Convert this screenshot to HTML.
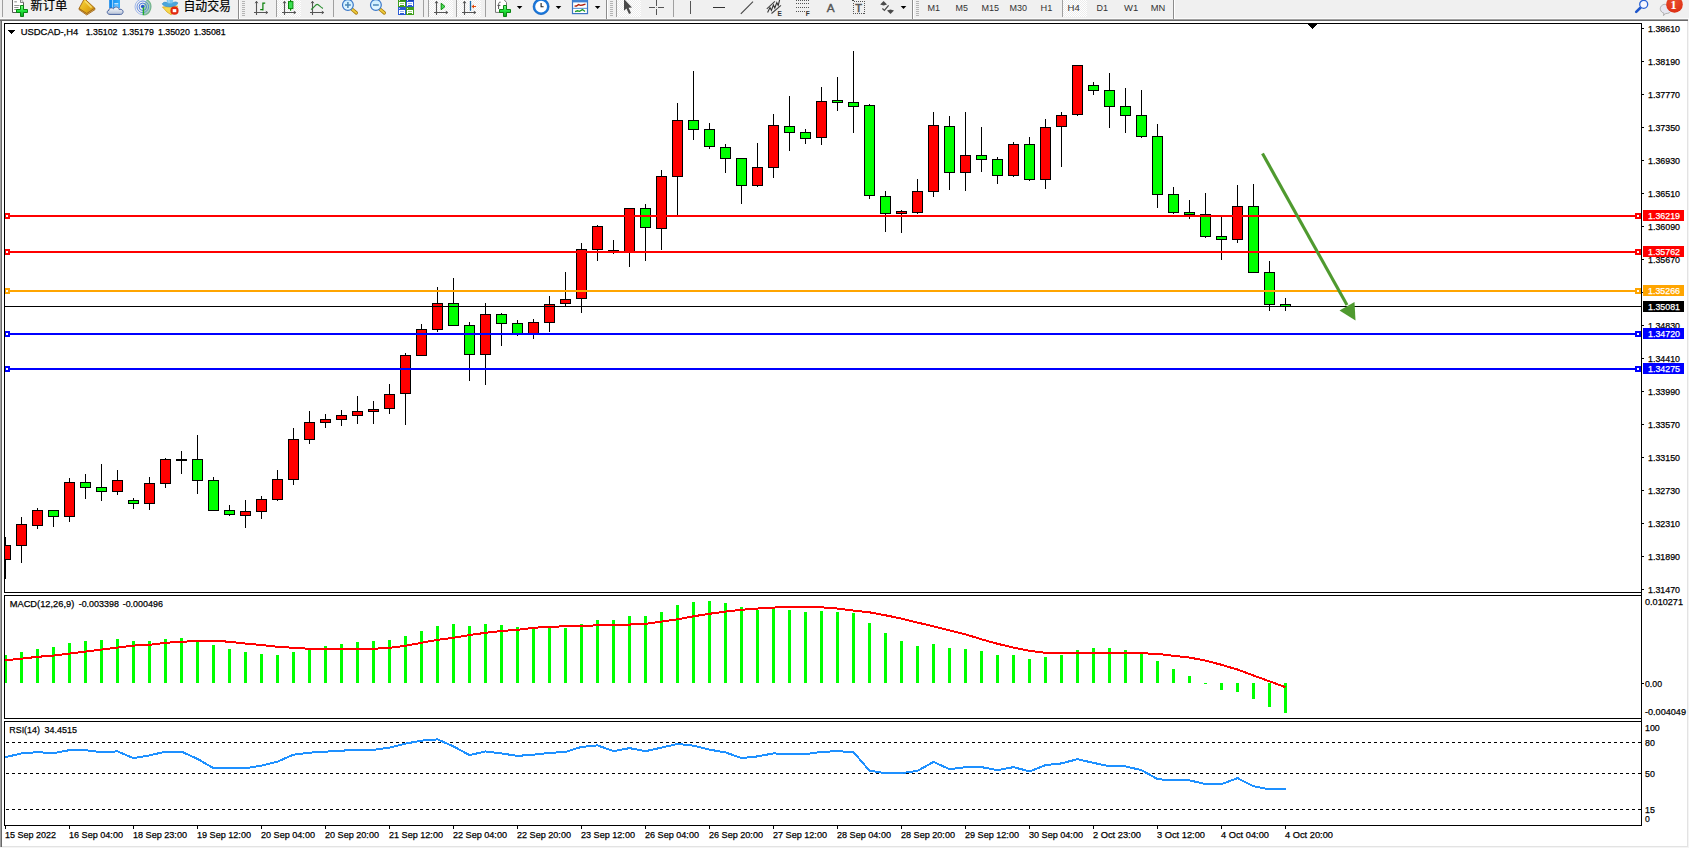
<!DOCTYPE html>
<html lang="zh-CN">
<head>
<meta charset="utf-8">
<title>USDCAD-,H4</title>
<style>
html,body{margin:0;padding:0;background:#fff;}
body{width:1689px;height:848px;overflow:hidden;position:relative;font-family:"Liberation Sans","Noto Sans CJK SC",sans-serif;}
#tb{position:absolute;left:0;top:0;width:1689px;height:19px;background:#f0f0f0;overflow:hidden;}
#tb .t{position:absolute;white-space:nowrap;color:#000;}
#tb svg{position:absolute;left:0;top:0;}
</style>
</head>
<body>
<svg width="1689" height="848" viewBox="0 0 1689 848" style="position:absolute;left:0;top:0" font-family="'Liberation Sans', sans-serif">
<g shape-rendering="crispEdges">
<rect x="0" y="19" width="1689" height="2" fill="#a0a0a0"/>
<rect x="0" y="20" width="1689" height="1" fill="#696969"/>
<rect x="0" y="21" width="2" height="827" fill="#a0a0a0"/>
<rect x="1" y="21" width="1" height="827" fill="#696969"/>
<rect x="1687" y="21" width="1" height="826" fill="#e3e3e3"/>
<rect x="2" y="846" width="1686" height="1" fill="#e3e3e3"/>
<rect x="1688" y="19" width="1" height="829" fill="#f4f4f4"/>
<rect x="0" y="847" width="1689" height="1" fill="#f4f4f4"/>
<rect x="4" y="23" width="1" height="570" fill="#000"/>
<rect x="4" y="23" width="1638" height="1" fill="#000"/>
<rect x="4" y="592" width="1638" height="1" fill="#000"/>
<rect x="4" y="595" width="1" height="124" fill="#000"/>
<rect x="4" y="595" width="1638" height="1" fill="#000"/>
<rect x="4" y="718" width="1638" height="1" fill="#000"/>
<rect x="4" y="721" width="1" height="105" fill="#000"/>
<rect x="4" y="721" width="1638" height="1" fill="#000"/>
<rect x="4" y="825" width="1638" height="1" fill="#000"/>
<rect x="1641" y="23" width="1" height="803" fill="#000"/>
<clipPath id="cm"><rect x="5" y="24" width="1636" height="568"/></clipPath>
<g clip-path="url(#cm)">
<rect x="5" y="537" width="1" height="42" fill="#000"/>
<rect x="0" y="545" width="11" height="15" fill="#000"/>
<rect x="1" y="546" width="9" height="13" fill="#ff0000"/>
<rect x="21" y="517" width="1" height="46" fill="#000"/>
<rect x="16" y="524" width="11" height="22" fill="#000"/>
<rect x="17" y="525" width="9" height="20" fill="#ff0000"/>
<rect x="37" y="508" width="1" height="21" fill="#000"/>
<rect x="32" y="510" width="11" height="16" fill="#000"/>
<rect x="33" y="511" width="9" height="14" fill="#ff0000"/>
<rect x="53" y="510" width="1" height="17" fill="#000"/>
<rect x="48" y="510" width="11" height="7" fill="#000"/>
<rect x="49" y="511" width="9" height="5" fill="#00ff00"/>
<rect x="69" y="478" width="1" height="44" fill="#000"/>
<rect x="64" y="482" width="11" height="35" fill="#000"/>
<rect x="65" y="483" width="9" height="33" fill="#ff0000"/>
<rect x="85" y="474" width="1" height="25" fill="#000"/>
<rect x="80" y="482" width="11" height="6" fill="#000"/>
<rect x="81" y="483" width="9" height="4" fill="#00ff00"/>
<rect x="101" y="464" width="1" height="37" fill="#000"/>
<rect x="96" y="487" width="11" height="5" fill="#000"/>
<rect x="97" y="488" width="9" height="3" fill="#00ff00"/>
<rect x="117" y="470" width="1" height="25" fill="#000"/>
<rect x="112" y="480" width="11" height="12" fill="#000"/>
<rect x="113" y="481" width="9" height="10" fill="#ff0000"/>
<rect x="133" y="498" width="1" height="11" fill="#000"/>
<rect x="128" y="500" width="11" height="4" fill="#000"/>
<rect x="129" y="501" width="9" height="2" fill="#00ff00"/>
<rect x="149" y="477" width="1" height="33" fill="#000"/>
<rect x="144" y="483" width="11" height="21" fill="#000"/>
<rect x="145" y="484" width="9" height="19" fill="#ff0000"/>
<rect x="165" y="458" width="1" height="30" fill="#000"/>
<rect x="160" y="459" width="11" height="25" fill="#000"/>
<rect x="161" y="460" width="9" height="23" fill="#ff0000"/>
<rect x="181" y="451" width="1" height="23" fill="#000"/>
<rect x="176" y="459" width="11" height="2" fill="#000"/>
<rect x="197" y="435" width="1" height="59" fill="#000"/>
<rect x="192" y="459" width="11" height="22" fill="#000"/>
<rect x="193" y="460" width="9" height="20" fill="#00ff00"/>
<rect x="213" y="477" width="1" height="34" fill="#000"/>
<rect x="208" y="480" width="11" height="31" fill="#000"/>
<rect x="209" y="481" width="9" height="29" fill="#00ff00"/>
<rect x="229" y="505" width="1" height="11" fill="#000"/>
<rect x="224" y="510" width="11" height="5" fill="#000"/>
<rect x="225" y="511" width="9" height="3" fill="#00ff00"/>
<rect x="245" y="500" width="1" height="28" fill="#000"/>
<rect x="240" y="511" width="11" height="5" fill="#000"/>
<rect x="241" y="512" width="9" height="3" fill="#ff0000"/>
<rect x="261" y="496" width="1" height="23" fill="#000"/>
<rect x="256" y="499" width="11" height="13" fill="#000"/>
<rect x="257" y="500" width="9" height="11" fill="#ff0000"/>
<rect x="277" y="470" width="1" height="31" fill="#000"/>
<rect x="272" y="479" width="11" height="21" fill="#000"/>
<rect x="273" y="480" width="9" height="19" fill="#ff0000"/>
<rect x="293" y="428" width="1" height="57" fill="#000"/>
<rect x="288" y="439" width="11" height="41" fill="#000"/>
<rect x="289" y="440" width="9" height="39" fill="#ff0000"/>
<rect x="309" y="411" width="1" height="33" fill="#000"/>
<rect x="304" y="422" width="11" height="18" fill="#000"/>
<rect x="305" y="423" width="9" height="16" fill="#ff0000"/>
<rect x="325" y="414" width="1" height="14" fill="#000"/>
<rect x="320" y="419" width="11" height="4" fill="#000"/>
<rect x="321" y="420" width="9" height="2" fill="#ff0000"/>
<rect x="341" y="410" width="1" height="16" fill="#000"/>
<rect x="336" y="415" width="11" height="5" fill="#000"/>
<rect x="337" y="416" width="9" height="3" fill="#ff0000"/>
<rect x="357" y="396" width="1" height="28" fill="#000"/>
<rect x="352" y="411" width="11" height="5" fill="#000"/>
<rect x="353" y="412" width="9" height="3" fill="#ff0000"/>
<rect x="373" y="401" width="1" height="23" fill="#000"/>
<rect x="368" y="409" width="11" height="3" fill="#000"/>
<rect x="369" y="410" width="9" height="1" fill="#ff0000"/>
<rect x="389" y="384" width="1" height="30" fill="#000"/>
<rect x="384" y="394" width="11" height="15" fill="#000"/>
<rect x="385" y="395" width="9" height="13" fill="#ff0000"/>
<rect x="405" y="353" width="1" height="72" fill="#000"/>
<rect x="400" y="355" width="11" height="39" fill="#000"/>
<rect x="401" y="356" width="9" height="37" fill="#ff0000"/>
<rect x="421" y="324" width="1" height="32" fill="#000"/>
<rect x="416" y="329" width="11" height="27" fill="#000"/>
<rect x="417" y="330" width="9" height="25" fill="#ff0000"/>
<rect x="437" y="287" width="1" height="45" fill="#000"/>
<rect x="432" y="303" width="11" height="27" fill="#000"/>
<rect x="433" y="304" width="9" height="25" fill="#ff0000"/>
<rect x="453" y="278" width="1" height="48" fill="#000"/>
<rect x="448" y="303" width="11" height="23" fill="#000"/>
<rect x="449" y="304" width="9" height="21" fill="#00ff00"/>
<rect x="469" y="322" width="1" height="59" fill="#000"/>
<rect x="464" y="325" width="11" height="30" fill="#000"/>
<rect x="465" y="326" width="9" height="28" fill="#00ff00"/>
<rect x="485" y="303" width="1" height="82" fill="#000"/>
<rect x="480" y="314" width="11" height="41" fill="#000"/>
<rect x="481" y="315" width="9" height="39" fill="#ff0000"/>
<rect x="501" y="313" width="1" height="33" fill="#000"/>
<rect x="496" y="314" width="11" height="10" fill="#000"/>
<rect x="497" y="315" width="9" height="8" fill="#00ff00"/>
<rect x="517" y="320" width="1" height="16" fill="#000"/>
<rect x="512" y="323" width="11" height="11" fill="#000"/>
<rect x="513" y="324" width="9" height="9" fill="#00ff00"/>
<rect x="533" y="319" width="1" height="20" fill="#000"/>
<rect x="528" y="322" width="11" height="12" fill="#000"/>
<rect x="529" y="323" width="9" height="10" fill="#ff0000"/>
<rect x="549" y="296" width="1" height="36" fill="#000"/>
<rect x="544" y="304" width="11" height="19" fill="#000"/>
<rect x="545" y="305" width="9" height="17" fill="#ff0000"/>
<rect x="565" y="272" width="1" height="34" fill="#000"/>
<rect x="560" y="299" width="11" height="5" fill="#000"/>
<rect x="561" y="300" width="9" height="3" fill="#ff0000"/>
<rect x="581" y="243" width="1" height="70" fill="#000"/>
<rect x="576" y="249" width="11" height="50" fill="#000"/>
<rect x="577" y="250" width="9" height="48" fill="#ff0000"/>
<rect x="597" y="225" width="1" height="36" fill="#000"/>
<rect x="592" y="226" width="11" height="24" fill="#000"/>
<rect x="593" y="227" width="9" height="22" fill="#ff0000"/>
<rect x="613" y="240" width="1" height="14" fill="#000"/>
<rect x="608" y="250" width="11" height="2" fill="#000"/>
<rect x="629" y="208" width="1" height="59" fill="#000"/>
<rect x="624" y="208" width="11" height="44" fill="#000"/>
<rect x="625" y="209" width="9" height="42" fill="#ff0000"/>
<rect x="645" y="204" width="1" height="57" fill="#000"/>
<rect x="640" y="208" width="11" height="20" fill="#000"/>
<rect x="641" y="209" width="9" height="18" fill="#00ff00"/>
<rect x="661" y="170" width="1" height="80" fill="#000"/>
<rect x="656" y="176" width="11" height="53" fill="#000"/>
<rect x="657" y="177" width="9" height="51" fill="#ff0000"/>
<rect x="677" y="103" width="1" height="113" fill="#000"/>
<rect x="672" y="120" width="11" height="57" fill="#000"/>
<rect x="673" y="121" width="9" height="55" fill="#ff0000"/>
<rect x="693" y="71" width="1" height="69" fill="#000"/>
<rect x="688" y="120" width="11" height="10" fill="#000"/>
<rect x="689" y="121" width="9" height="8" fill="#00ff00"/>
<rect x="709" y="123" width="1" height="26" fill="#000"/>
<rect x="704" y="129" width="11" height="18" fill="#000"/>
<rect x="705" y="130" width="9" height="16" fill="#00ff00"/>
<rect x="725" y="144" width="1" height="29" fill="#000"/>
<rect x="720" y="147" width="11" height="12" fill="#000"/>
<rect x="721" y="148" width="9" height="10" fill="#00ff00"/>
<rect x="741" y="158" width="1" height="46" fill="#000"/>
<rect x="736" y="158" width="11" height="28" fill="#000"/>
<rect x="737" y="159" width="9" height="26" fill="#00ff00"/>
<rect x="757" y="143" width="1" height="44" fill="#000"/>
<rect x="752" y="167" width="11" height="19" fill="#000"/>
<rect x="753" y="168" width="9" height="17" fill="#ff0000"/>
<rect x="773" y="114" width="1" height="64" fill="#000"/>
<rect x="768" y="125" width="11" height="43" fill="#000"/>
<rect x="769" y="126" width="9" height="41" fill="#ff0000"/>
<rect x="789" y="96" width="1" height="55" fill="#000"/>
<rect x="784" y="126" width="11" height="7" fill="#000"/>
<rect x="785" y="127" width="9" height="5" fill="#00ff00"/>
<rect x="805" y="129" width="1" height="15" fill="#000"/>
<rect x="800" y="132" width="11" height="7" fill="#000"/>
<rect x="801" y="133" width="9" height="5" fill="#00ff00"/>
<rect x="821" y="87" width="1" height="58" fill="#000"/>
<rect x="816" y="101" width="11" height="37" fill="#000"/>
<rect x="817" y="102" width="9" height="35" fill="#ff0000"/>
<rect x="837" y="77" width="1" height="34" fill="#000"/>
<rect x="832" y="100" width="11" height="3" fill="#000"/>
<rect x="833" y="101" width="9" height="1" fill="#00ff00"/>
<rect x="853" y="51" width="1" height="82" fill="#000"/>
<rect x="848" y="102" width="11" height="5" fill="#000"/>
<rect x="849" y="103" width="9" height="3" fill="#00ff00"/>
<rect x="869" y="104" width="1" height="95" fill="#000"/>
<rect x="864" y="105" width="11" height="91" fill="#000"/>
<rect x="865" y="106" width="9" height="89" fill="#00ff00"/>
<rect x="885" y="191" width="1" height="41" fill="#000"/>
<rect x="880" y="196" width="11" height="18" fill="#000"/>
<rect x="881" y="197" width="9" height="16" fill="#00ff00"/>
<rect x="901" y="210" width="1" height="23" fill="#000"/>
<rect x="896" y="211" width="11" height="3" fill="#000"/>
<rect x="897" y="212" width="9" height="1" fill="#ff0000"/>
<rect x="917" y="179" width="1" height="35" fill="#000"/>
<rect x="912" y="191" width="11" height="22" fill="#000"/>
<rect x="913" y="192" width="9" height="20" fill="#ff0000"/>
<rect x="933" y="112" width="1" height="85" fill="#000"/>
<rect x="928" y="125" width="11" height="67" fill="#000"/>
<rect x="929" y="126" width="9" height="65" fill="#ff0000"/>
<rect x="949" y="116" width="1" height="74" fill="#000"/>
<rect x="944" y="126" width="11" height="47" fill="#000"/>
<rect x="945" y="127" width="9" height="45" fill="#00ff00"/>
<rect x="965" y="112" width="1" height="79" fill="#000"/>
<rect x="960" y="155" width="11" height="18" fill="#000"/>
<rect x="961" y="156" width="9" height="16" fill="#ff0000"/>
<rect x="981" y="127" width="1" height="45" fill="#000"/>
<rect x="976" y="155" width="11" height="5" fill="#000"/>
<rect x="977" y="156" width="9" height="3" fill="#00ff00"/>
<rect x="997" y="157" width="1" height="27" fill="#000"/>
<rect x="992" y="159" width="11" height="17" fill="#000"/>
<rect x="993" y="160" width="9" height="15" fill="#00ff00"/>
<rect x="1013" y="142" width="1" height="35" fill="#000"/>
<rect x="1008" y="144" width="11" height="32" fill="#000"/>
<rect x="1009" y="145" width="9" height="30" fill="#ff0000"/>
<rect x="1029" y="137" width="1" height="44" fill="#000"/>
<rect x="1024" y="144" width="11" height="36" fill="#000"/>
<rect x="1025" y="145" width="9" height="34" fill="#00ff00"/>
<rect x="1045" y="119" width="1" height="70" fill="#000"/>
<rect x="1040" y="127" width="11" height="53" fill="#000"/>
<rect x="1041" y="128" width="9" height="51" fill="#ff0000"/>
<rect x="1061" y="112" width="1" height="55" fill="#000"/>
<rect x="1056" y="115" width="11" height="12" fill="#000"/>
<rect x="1057" y="116" width="9" height="10" fill="#ff0000"/>
<rect x="1077" y="65" width="1" height="51" fill="#000"/>
<rect x="1072" y="65" width="11" height="50" fill="#000"/>
<rect x="1073" y="66" width="9" height="48" fill="#ff0000"/>
<rect x="1093" y="82" width="1" height="13" fill="#000"/>
<rect x="1088" y="85" width="11" height="6" fill="#000"/>
<rect x="1089" y="86" width="9" height="4" fill="#00ff00"/>
<rect x="1109" y="73" width="1" height="55" fill="#000"/>
<rect x="1104" y="90" width="11" height="17" fill="#000"/>
<rect x="1105" y="91" width="9" height="15" fill="#00ff00"/>
<rect x="1125" y="88" width="1" height="45" fill="#000"/>
<rect x="1120" y="106" width="11" height="10" fill="#000"/>
<rect x="1121" y="107" width="9" height="8" fill="#00ff00"/>
<rect x="1141" y="90" width="1" height="48" fill="#000"/>
<rect x="1136" y="115" width="11" height="22" fill="#000"/>
<rect x="1137" y="116" width="9" height="20" fill="#00ff00"/>
<rect x="1157" y="124" width="1" height="84" fill="#000"/>
<rect x="1152" y="136" width="11" height="59" fill="#000"/>
<rect x="1153" y="137" width="9" height="57" fill="#00ff00"/>
<rect x="1173" y="187" width="1" height="27" fill="#000"/>
<rect x="1168" y="194" width="11" height="19" fill="#000"/>
<rect x="1169" y="195" width="9" height="17" fill="#00ff00"/>
<rect x="1189" y="200" width="1" height="19" fill="#000"/>
<rect x="1184" y="212" width="11" height="3" fill="#000"/>
<rect x="1185" y="213" width="9" height="1" fill="#00ff00"/>
<rect x="1205" y="193" width="1" height="45" fill="#000"/>
<rect x="1200" y="214" width="11" height="23" fill="#000"/>
<rect x="1201" y="215" width="9" height="21" fill="#00ff00"/>
<rect x="1221" y="217" width="1" height="43" fill="#000"/>
<rect x="1216" y="236" width="11" height="4" fill="#000"/>
<rect x="1217" y="237" width="9" height="2" fill="#00ff00"/>
<rect x="1237" y="185" width="1" height="58" fill="#000"/>
<rect x="1232" y="206" width="11" height="34" fill="#000"/>
<rect x="1233" y="207" width="9" height="32" fill="#ff0000"/>
<rect x="1253" y="184" width="1" height="89" fill="#000"/>
<rect x="1248" y="206" width="11" height="67" fill="#000"/>
<rect x="1249" y="207" width="9" height="65" fill="#00ff00"/>
<rect x="1269" y="261" width="1" height="50" fill="#000"/>
<rect x="1264" y="272" width="11" height="33" fill="#000"/>
<rect x="1265" y="273" width="9" height="31" fill="#00ff00"/>
<rect x="1285" y="298" width="1" height="13" fill="#000"/>
<rect x="1280" y="304" width="11" height="3" fill="#000"/>
<rect x="1281" y="305" width="9" height="1" fill="#00ff00"/>
</g>
<rect x="5" y="306" width="1636" height="1" fill="#000"/>
<rect x="5" y="215" width="1636" height="2" fill="#ff0000"/>
<rect x="4" y="213" width="6" height="6" fill="#ff0000"/>
<rect x="6" y="215" width="2" height="2" fill="#fff"/>
<rect x="1635" y="213" width="6" height="6" fill="#ff0000"/>
<rect x="1637" y="215" width="2" height="2" fill="#fff"/>
<rect x="5" y="251" width="1636" height="2" fill="#ff0000"/>
<rect x="4" y="249" width="6" height="6" fill="#ff0000"/>
<rect x="6" y="251" width="2" height="2" fill="#fff"/>
<rect x="1635" y="249" width="6" height="6" fill="#ff0000"/>
<rect x="1637" y="251" width="2" height="2" fill="#fff"/>
<rect x="5" y="290" width="1636" height="2" fill="#ffa500"/>
<rect x="4" y="288" width="6" height="6" fill="#ffa500"/>
<rect x="6" y="290" width="2" height="2" fill="#fff"/>
<rect x="1635" y="288" width="6" height="6" fill="#ffa500"/>
<rect x="1637" y="290" width="2" height="2" fill="#fff"/>
<rect x="5" y="333" width="1636" height="2" fill="#0000ff"/>
<rect x="4" y="331" width="6" height="6" fill="#0000ff"/>
<rect x="6" y="333" width="2" height="2" fill="#fff"/>
<rect x="1635" y="331" width="6" height="6" fill="#0000ff"/>
<rect x="1637" y="333" width="2" height="2" fill="#fff"/>
<rect x="5" y="368" width="1636" height="2" fill="#0000ff"/>
<rect x="4" y="366" width="6" height="6" fill="#0000ff"/>
<rect x="6" y="368" width="2" height="2" fill="#fff"/>
<rect x="1635" y="366" width="6" height="6" fill="#0000ff"/>
<rect x="1637" y="368" width="2" height="2" fill="#fff"/>
<rect x="1642" y="28" width="2" height="1" fill="#000"/>
<rect x="1642" y="61" width="2" height="1" fill="#000"/>
<rect x="1642" y="94" width="2" height="1" fill="#000"/>
<rect x="1642" y="127" width="2" height="1" fill="#000"/>
<rect x="1642" y="160" width="2" height="1" fill="#000"/>
<rect x="1642" y="193" width="2" height="1" fill="#000"/>
<rect x="1642" y="226" width="2" height="1" fill="#000"/>
<rect x="1642" y="259" width="2" height="1" fill="#000"/>
<rect x="1642" y="292" width="2" height="1" fill="#000"/>
<rect x="1642" y="325" width="2" height="1" fill="#000"/>
<rect x="1642" y="358" width="2" height="1" fill="#000"/>
<rect x="1642" y="391" width="2" height="1" fill="#000"/>
<rect x="1642" y="424" width="2" height="1" fill="#000"/>
<rect x="1642" y="457" width="2" height="1" fill="#000"/>
<rect x="1642" y="490" width="2" height="1" fill="#000"/>
<rect x="1642" y="523" width="2" height="1" fill="#000"/>
<rect x="1642" y="556" width="2" height="1" fill="#000"/>
<rect x="1642" y="589" width="2" height="1" fill="#000"/>
<rect x="1642" y="683" width="2" height="1" fill="#000"/>
</g>
<text x="1648" y="31.8" fill="#000" font-size="9.9" text-anchor="start" textLength="32" lengthAdjust="spacingAndGlyphs" stroke="#000" stroke-width="0.25" >1.38610</text>
<text x="1648" y="64.8" fill="#000" font-size="9.9" text-anchor="start" textLength="32" lengthAdjust="spacingAndGlyphs" stroke="#000" stroke-width="0.25" >1.38190</text>
<text x="1648" y="97.8" fill="#000" font-size="9.9" text-anchor="start" textLength="32" lengthAdjust="spacingAndGlyphs" stroke="#000" stroke-width="0.25" >1.37770</text>
<text x="1648" y="130.8" fill="#000" font-size="9.9" text-anchor="start" textLength="32" lengthAdjust="spacingAndGlyphs" stroke="#000" stroke-width="0.25" >1.37350</text>
<text x="1648" y="163.8" fill="#000" font-size="9.9" text-anchor="start" textLength="32" lengthAdjust="spacingAndGlyphs" stroke="#000" stroke-width="0.25" >1.36930</text>
<text x="1648" y="196.8" fill="#000" font-size="9.9" text-anchor="start" textLength="32" lengthAdjust="spacingAndGlyphs" stroke="#000" stroke-width="0.25" >1.36510</text>
<text x="1648" y="229.8" fill="#000" font-size="9.9" text-anchor="start" textLength="32" lengthAdjust="spacingAndGlyphs" stroke="#000" stroke-width="0.25" >1.36090</text>
<text x="1648" y="262.8" fill="#000" font-size="9.9" text-anchor="start" textLength="32" lengthAdjust="spacingAndGlyphs" stroke="#000" stroke-width="0.25" >1.35670</text>
<text x="1648" y="328.8" fill="#000" font-size="9.9" text-anchor="start" textLength="32" lengthAdjust="spacingAndGlyphs" stroke="#000" stroke-width="0.25" >1.34830</text>
<text x="1648" y="361.8" fill="#000" font-size="9.9" text-anchor="start" textLength="32" lengthAdjust="spacingAndGlyphs" stroke="#000" stroke-width="0.25" >1.34410</text>
<text x="1648" y="394.8" fill="#000" font-size="9.9" text-anchor="start" textLength="32" lengthAdjust="spacingAndGlyphs" stroke="#000" stroke-width="0.25" >1.33990</text>
<text x="1648" y="427.8" fill="#000" font-size="9.9" text-anchor="start" textLength="32" lengthAdjust="spacingAndGlyphs" stroke="#000" stroke-width="0.25" >1.33570</text>
<text x="1648" y="460.8" fill="#000" font-size="9.9" text-anchor="start" textLength="32" lengthAdjust="spacingAndGlyphs" stroke="#000" stroke-width="0.25" >1.33150</text>
<text x="1648" y="493.8" fill="#000" font-size="9.9" text-anchor="start" textLength="32" lengthAdjust="spacingAndGlyphs" stroke="#000" stroke-width="0.25" >1.32730</text>
<text x="1648" y="526.8" fill="#000" font-size="9.9" text-anchor="start" textLength="32" lengthAdjust="spacingAndGlyphs" stroke="#000" stroke-width="0.25" >1.32310</text>
<text x="1648" y="559.8" fill="#000" font-size="9.9" text-anchor="start" textLength="32" lengthAdjust="spacingAndGlyphs" stroke="#000" stroke-width="0.25" >1.31890</text>
<text x="1648" y="592.8" fill="#000" font-size="9.9" text-anchor="start" textLength="32" lengthAdjust="spacingAndGlyphs" stroke="#000" stroke-width="0.25" >1.31470</text>
<g shape-rendering="crispEdges">
<rect x="1643" y="210" width="41" height="11" fill="#ff0000"/>
<rect x="1643" y="246" width="41" height="11" fill="#ff0000"/>
<rect x="1643" y="285" width="41" height="11" fill="#ffa500"/>
<rect x="1643" y="328" width="41" height="11" fill="#0000ff"/>
<rect x="1643" y="363" width="41" height="11" fill="#0000ff"/>
<rect x="1643" y="301" width="41" height="11" fill="#000"/>
<rect x="4" y="655" width="3" height="28" fill="#00ff00"/>
<rect x="20" y="652" width="3" height="31" fill="#00ff00"/>
<rect x="36" y="649" width="3" height="34" fill="#00ff00"/>
<rect x="52" y="647" width="3" height="36" fill="#00ff00"/>
<rect x="68" y="643" width="3" height="40" fill="#00ff00"/>
<rect x="84" y="641" width="3" height="42" fill="#00ff00"/>
<rect x="100" y="640" width="3" height="43" fill="#00ff00"/>
<rect x="116" y="639" width="3" height="44" fill="#00ff00"/>
<rect x="132" y="641" width="3" height="42" fill="#00ff00"/>
<rect x="148" y="641" width="3" height="42" fill="#00ff00"/>
<rect x="164" y="639" width="3" height="44" fill="#00ff00"/>
<rect x="180" y="638" width="3" height="45" fill="#00ff00"/>
<rect x="196" y="641" width="3" height="42" fill="#00ff00"/>
<rect x="212" y="645" width="3" height="38" fill="#00ff00"/>
<rect x="228" y="649" width="3" height="34" fill="#00ff00"/>
<rect x="244" y="652" width="3" height="31" fill="#00ff00"/>
<rect x="260" y="654" width="3" height="29" fill="#00ff00"/>
<rect x="276" y="655" width="3" height="28" fill="#00ff00"/>
<rect x="292" y="652" width="3" height="31" fill="#00ff00"/>
<rect x="308" y="649" width="3" height="34" fill="#00ff00"/>
<rect x="324" y="646" width="3" height="37" fill="#00ff00"/>
<rect x="340" y="644" width="3" height="39" fill="#00ff00"/>
<rect x="356" y="642" width="3" height="41" fill="#00ff00"/>
<rect x="372" y="641" width="3" height="42" fill="#00ff00"/>
<rect x="388" y="640" width="3" height="43" fill="#00ff00"/>
<rect x="404" y="636" width="3" height="47" fill="#00ff00"/>
<rect x="420" y="631" width="3" height="52" fill="#00ff00"/>
<rect x="436" y="626" width="3" height="57" fill="#00ff00"/>
<rect x="452" y="624" width="3" height="59" fill="#00ff00"/>
<rect x="468" y="626" width="3" height="57" fill="#00ff00"/>
<rect x="484" y="624" width="3" height="59" fill="#00ff00"/>
<rect x="500" y="625" width="3" height="58" fill="#00ff00"/>
<rect x="516" y="627" width="3" height="56" fill="#00ff00"/>
<rect x="532" y="628" width="3" height="55" fill="#00ff00"/>
<rect x="548" y="628" width="3" height="55" fill="#00ff00"/>
<rect x="564" y="628" width="3" height="55" fill="#00ff00"/>
<rect x="580" y="624" width="3" height="59" fill="#00ff00"/>
<rect x="596" y="620" width="3" height="63" fill="#00ff00"/>
<rect x="612" y="620" width="3" height="63" fill="#00ff00"/>
<rect x="628" y="616" width="3" height="67" fill="#00ff00"/>
<rect x="644" y="616" width="3" height="67" fill="#00ff00"/>
<rect x="660" y="612" width="3" height="71" fill="#00ff00"/>
<rect x="676" y="605" width="3" height="78" fill="#00ff00"/>
<rect x="692" y="602" width="3" height="81" fill="#00ff00"/>
<rect x="708" y="601" width="3" height="82" fill="#00ff00"/>
<rect x="724" y="603" width="3" height="80" fill="#00ff00"/>
<rect x="740" y="607" width="3" height="76" fill="#00ff00"/>
<rect x="756" y="610" width="3" height="73" fill="#00ff00"/>
<rect x="772" y="609" width="3" height="74" fill="#00ff00"/>
<rect x="788" y="610" width="3" height="73" fill="#00ff00"/>
<rect x="804" y="612" width="3" height="71" fill="#00ff00"/>
<rect x="820" y="611" width="3" height="72" fill="#00ff00"/>
<rect x="836" y="612" width="3" height="71" fill="#00ff00"/>
<rect x="852" y="613" width="3" height="70" fill="#00ff00"/>
<rect x="868" y="623" width="3" height="60" fill="#00ff00"/>
<rect x="884" y="633" width="3" height="50" fill="#00ff00"/>
<rect x="900" y="641" width="3" height="42" fill="#00ff00"/>
<rect x="916" y="646" width="3" height="37" fill="#00ff00"/>
<rect x="932" y="644" width="3" height="39" fill="#00ff00"/>
<rect x="948" y="648" width="3" height="35" fill="#00ff00"/>
<rect x="964" y="649" width="3" height="34" fill="#00ff00"/>
<rect x="980" y="651" width="3" height="32" fill="#00ff00"/>
<rect x="996" y="655" width="3" height="28" fill="#00ff00"/>
<rect x="1012" y="655" width="3" height="28" fill="#00ff00"/>
<rect x="1028" y="659" width="3" height="24" fill="#00ff00"/>
<rect x="1044" y="657" width="3" height="26" fill="#00ff00"/>
<rect x="1060" y="655" width="3" height="28" fill="#00ff00"/>
<rect x="1076" y="650" width="3" height="33" fill="#00ff00"/>
<rect x="1092" y="648" width="3" height="35" fill="#00ff00"/>
<rect x="1108" y="648" width="3" height="35" fill="#00ff00"/>
<rect x="1124" y="650" width="3" height="33" fill="#00ff00"/>
<rect x="1140" y="653" width="3" height="30" fill="#00ff00"/>
<rect x="1156" y="661" width="3" height="22" fill="#00ff00"/>
<rect x="1172" y="669" width="3" height="14" fill="#00ff00"/>
<rect x="1188" y="676" width="3" height="7" fill="#00ff00"/>
<rect x="1204" y="683" width="3" height="1" fill="#00ff00"/>
<rect x="1220" y="683" width="3" height="7" fill="#00ff00"/>
<rect x="1236" y="683" width="3" height="9" fill="#00ff00"/>
<rect x="1252" y="683" width="3" height="16" fill="#00ff00"/>
<rect x="1268" y="683" width="3" height="24" fill="#00ff00"/>
<rect x="1284" y="683" width="3" height="30" fill="#00ff00"/>
</g>
<rect x="4" y="23" width="1" height="570" fill="#000" shape-rendering="crispEdges"/>
<rect x="4" y="595" width="1" height="124" fill="#000" shape-rendering="crispEdges"/>
<rect x="2" y="21" width="2" height="825" fill="#fff" shape-rendering="crispEdges"/>
<polyline points="5,660.30 5.5,660.30 21.5,658.70 37.5,656.80 53.5,655.60 69.5,653.60 85.5,651.60 101.5,649.60 117.5,647.60 133.5,645.60 149.5,644.80 165.5,642.80 181.5,641.80 197.5,640.90 213.5,640.60 229.5,641.80 245.5,643.60 261.5,645.05 277.5,646.80 293.5,647.80 309.5,648.80 325.5,649.05 341.5,649.05 357.5,649.05 373.5,648.80 389.5,647.80 405.5,645.80 421.5,642.80 437.5,639.80 453.5,637.80 469.5,635.05 485.5,632.80 501.5,631.05 517.5,629.80 533.5,627.80 549.5,626.80 565.5,626.30 581.5,626.05 597.5,625.30 613.5,625.05 629.5,624.55 645.5,623.80 661.5,621.60 677.5,619.30 693.5,616.30 709.5,613.80 725.5,611.55 741.5,609.80 757.5,608.55 773.5,607.55 789.5,607.05 805.5,607.05 821.5,607.30 837.5,608.55 853.5,610.55 869.5,612.30 885.5,615.30 901.5,618.55 917.5,622.55 933.5,626.30 949.5,630.30 965.5,634.30 981.5,639.30 997.5,643.80 1013.5,647.55 1029.5,650.80 1045.5,652.80 1061.5,653.30 1077.5,653.30 1093.5,653.30 1109.5,653.30 1125.5,653.30 1141.5,653.30 1157.5,653.80 1173.5,655.80 1189.5,657.55 1205.5,660.55 1221.5,664.80 1237.5,669.55 1253.5,675.55 1269.5,681.30 1285.5,687.30" fill="none" stroke="#ff0000" stroke-width="2" stroke-linejoin="round" shape-rendering="crispEdges"/>
<line x1="6" y1="742.5" x2="1641" y2="742.5" stroke="#000" stroke-width="1" stroke-dasharray="3 3" shape-rendering="crispEdges"/>
<line x1="6" y1="773.5" x2="1641" y2="773.5" stroke="#000" stroke-width="1" stroke-dasharray="3 3" shape-rendering="crispEdges"/>
<line x1="6" y1="809.5" x2="1641" y2="809.5" stroke="#000" stroke-width="1" stroke-dasharray="3 3" shape-rendering="crispEdges"/>
<polyline points="5,757.15 5.5,757.15 21.5,753.40 37.5,752.15 53.5,753.15 69.5,750.15 85.5,750.15 101.5,752.15 117.5,751.40 133.5,758.15 149.5,755.40 165.5,751.65 181.5,751.65 197.5,758.90 213.5,768.15 229.5,768.15 245.5,768.15 261.5,765.65 277.5,761.65 293.5,754.65 309.5,752.65 325.5,751.65 341.5,750.65 357.5,749.90 373.5,749.90 389.5,747.65 405.5,743.65 421.5,740.65 437.5,739.40 453.5,746.40 469.5,755.15 485.5,751.40 501.5,753.40 517.5,755.90 533.5,754.65 549.5,752.90 565.5,751.90 581.5,746.90 597.5,745.40 613.5,751.15 629.5,748.15 645.5,751.15 661.5,747.65 677.5,743.90 693.5,745.65 709.5,749.65 725.5,752.40 741.5,758.15 757.5,756.40 773.5,753.40 789.5,754.15 805.5,754.15 821.5,751.90 837.5,751.15 853.5,752.15 869.5,770.65 885.5,773.15 901.5,773.15 917.5,770.90 933.5,761.90 949.5,769.15 965.5,767.15 981.5,767.15 997.5,770.15 1013.5,767.15 1029.5,771.40 1045.5,765.15 1061.5,763.40 1077.5,759.15 1093.5,762.90 1109.5,766.15 1125.5,766.40 1141.5,770.15 1157.5,779.15 1173.5,780.40 1189.5,780.40 1205.5,784.00 1221.5,784.15 1237.5,778.10 1253.5,786.20 1269.5,789.40 1285.5,789.40" fill="none" stroke="#1e90ff" stroke-width="2" stroke-linejoin="round" shape-rendering="crispEdges"/>
<g shape-rendering="crispEdges">
<rect x="5" y="826" width="1" height="3" fill="#000"/>
<rect x="69" y="826" width="1" height="3" fill="#000"/>
<rect x="133" y="826" width="1" height="3" fill="#000"/>
<rect x="197" y="826" width="1" height="3" fill="#000"/>
<rect x="261" y="826" width="1" height="3" fill="#000"/>
<rect x="325" y="826" width="1" height="3" fill="#000"/>
<rect x="389" y="826" width="1" height="3" fill="#000"/>
<rect x="453" y="826" width="1" height="3" fill="#000"/>
<rect x="517" y="826" width="1" height="3" fill="#000"/>
<rect x="581" y="826" width="1" height="3" fill="#000"/>
<rect x="645" y="826" width="1" height="3" fill="#000"/>
<rect x="709" y="826" width="1" height="3" fill="#000"/>
<rect x="773" y="826" width="1" height="3" fill="#000"/>
<rect x="837" y="826" width="1" height="3" fill="#000"/>
<rect x="901" y="826" width="1" height="3" fill="#000"/>
<rect x="965" y="826" width="1" height="3" fill="#000"/>
<rect x="1029" y="826" width="1" height="3" fill="#000"/>
<rect x="1093" y="826" width="1" height="3" fill="#000"/>
<rect x="1157" y="826" width="1" height="3" fill="#000"/>
<rect x="1221" y="826" width="1" height="3" fill="#000"/>
<rect x="1285" y="826" width="1" height="3" fill="#000"/>
</g>
<text x="5" y="838" fill="#000" font-size="9.9" text-anchor="start" textLength="51" lengthAdjust="spacingAndGlyphs" stroke="#000" stroke-width="0.25" >15 Sep 2022</text>
<text x="69" y="838" fill="#000" font-size="9.9" text-anchor="start" textLength="54" lengthAdjust="spacingAndGlyphs" stroke="#000" stroke-width="0.25" >16 Sep 04:00</text>
<text x="133" y="838" fill="#000" font-size="9.9" text-anchor="start" textLength="54" lengthAdjust="spacingAndGlyphs" stroke="#000" stroke-width="0.25" >18 Sep 23:00</text>
<text x="197" y="838" fill="#000" font-size="9.9" text-anchor="start" textLength="54" lengthAdjust="spacingAndGlyphs" stroke="#000" stroke-width="0.25" >19 Sep 12:00</text>
<text x="261" y="838" fill="#000" font-size="9.9" text-anchor="start" textLength="54" lengthAdjust="spacingAndGlyphs" stroke="#000" stroke-width="0.25" >20 Sep 04:00</text>
<text x="325" y="838" fill="#000" font-size="9.9" text-anchor="start" textLength="54" lengthAdjust="spacingAndGlyphs" stroke="#000" stroke-width="0.25" >20 Sep 20:00</text>
<text x="389" y="838" fill="#000" font-size="9.9" text-anchor="start" textLength="54" lengthAdjust="spacingAndGlyphs" stroke="#000" stroke-width="0.25" >21 Sep 12:00</text>
<text x="453" y="838" fill="#000" font-size="9.9" text-anchor="start" textLength="54" lengthAdjust="spacingAndGlyphs" stroke="#000" stroke-width="0.25" >22 Sep 04:00</text>
<text x="517" y="838" fill="#000" font-size="9.9" text-anchor="start" textLength="54" lengthAdjust="spacingAndGlyphs" stroke="#000" stroke-width="0.25" >22 Sep 20:00</text>
<text x="581" y="838" fill="#000" font-size="9.9" text-anchor="start" textLength="54" lengthAdjust="spacingAndGlyphs" stroke="#000" stroke-width="0.25" >23 Sep 12:00</text>
<text x="645" y="838" fill="#000" font-size="9.9" text-anchor="start" textLength="54" lengthAdjust="spacingAndGlyphs" stroke="#000" stroke-width="0.25" >26 Sep 04:00</text>
<text x="709" y="838" fill="#000" font-size="9.9" text-anchor="start" textLength="54" lengthAdjust="spacingAndGlyphs" stroke="#000" stroke-width="0.25" >26 Sep 20:00</text>
<text x="773" y="838" fill="#000" font-size="9.9" text-anchor="start" textLength="54" lengthAdjust="spacingAndGlyphs" stroke="#000" stroke-width="0.25" >27 Sep 12:00</text>
<text x="837" y="838" fill="#000" font-size="9.9" text-anchor="start" textLength="54" lengthAdjust="spacingAndGlyphs" stroke="#000" stroke-width="0.25" >28 Sep 04:00</text>
<text x="901" y="838" fill="#000" font-size="9.9" text-anchor="start" textLength="54" lengthAdjust="spacingAndGlyphs" stroke="#000" stroke-width="0.25" >28 Sep 20:00</text>
<text x="965" y="838" fill="#000" font-size="9.9" text-anchor="start" textLength="54" lengthAdjust="spacingAndGlyphs" stroke="#000" stroke-width="0.25" >29 Sep 12:00</text>
<text x="1029" y="838" fill="#000" font-size="9.9" text-anchor="start" textLength="54" lengthAdjust="spacingAndGlyphs" stroke="#000" stroke-width="0.25" >30 Sep 04:00</text>
<text x="1093" y="838" fill="#000" font-size="9.9" text-anchor="start" textLength="48" lengthAdjust="spacingAndGlyphs" stroke="#000" stroke-width="0.25" >2 Oct 23:00</text>
<text x="1157" y="838" fill="#000" font-size="9.9" text-anchor="start" textLength="48" lengthAdjust="spacingAndGlyphs" stroke="#000" stroke-width="0.25" >3 Oct 12:00</text>
<text x="1221" y="838" fill="#000" font-size="9.9" text-anchor="start" textLength="48" lengthAdjust="spacingAndGlyphs" stroke="#000" stroke-width="0.25" >4 Oct 04:00</text>
<text x="1285" y="838" fill="#000" font-size="9.9" text-anchor="start" textLength="48" lengthAdjust="spacingAndGlyphs" stroke="#000" stroke-width="0.25" >4 Oct 20:00</text>
<line x1="1262.5" y1="153.5" x2="1347" y2="305" stroke="#4f9a2f" stroke-width="3.1"/>
<polygon points="1339.5,310.5 1354.5,302 1355.5,320.5" fill="#4f9a2f"/>
<text x="1648" y="219" fill="#fff" font-size="9.9" text-anchor="start" textLength="32" lengthAdjust="spacingAndGlyphs" stroke="#fff" stroke-width="0.25" >1.36219</text>
<text x="1648" y="255" fill="#fff" font-size="9.9" text-anchor="start" textLength="32" lengthAdjust="spacingAndGlyphs" stroke="#fff" stroke-width="0.25" >1.35762</text>
<text x="1648" y="294" fill="#fff" font-size="9.9" text-anchor="start" textLength="32" lengthAdjust="spacingAndGlyphs" stroke="#fff" stroke-width="0.25" >1.35266</text>
<text x="1648" y="337" fill="#fff" font-size="9.9" text-anchor="start" textLength="32" lengthAdjust="spacingAndGlyphs" stroke="#fff" stroke-width="0.25" >1.34720</text>
<text x="1648" y="372" fill="#fff" font-size="9.9" text-anchor="start" textLength="32" lengthAdjust="spacingAndGlyphs" stroke="#fff" stroke-width="0.25" >1.34275</text>
<text x="1648" y="309.6" fill="#fff" font-size="9.9" text-anchor="start" textLength="32" lengthAdjust="spacingAndGlyphs" stroke="#fff" stroke-width="0.25" >1.35081</text>
<text x="1645" y="605" fill="#000" font-size="9.9" text-anchor="start" textLength="38" lengthAdjust="spacingAndGlyphs" stroke="#000" stroke-width="0.25" >0.010271</text>
<text x="1645" y="687" fill="#000" font-size="9.9" text-anchor="start" textLength="17" lengthAdjust="spacingAndGlyphs" stroke="#000" stroke-width="0.25" >0.00</text>
<text x="1645" y="715" fill="#000" font-size="9.9" text-anchor="start" textLength="41" lengthAdjust="spacingAndGlyphs" stroke="#000" stroke-width="0.25" >-0.004049</text>
<text x="1645" y="731" fill="#000" font-size="9.9" text-anchor="start" textLength="14.8" lengthAdjust="spacingAndGlyphs" stroke="#000" stroke-width="0.25" >100</text>
<text x="1645" y="746" fill="#000" font-size="9.9" text-anchor="start" textLength="9.8" lengthAdjust="spacingAndGlyphs" stroke="#000" stroke-width="0.25" >80</text>
<text x="1645" y="777" fill="#000" font-size="9.9" text-anchor="start" textLength="9.8" lengthAdjust="spacingAndGlyphs" stroke="#000" stroke-width="0.25" >50</text>
<text x="1645" y="812.8" fill="#000" font-size="9.9" text-anchor="start" textLength="9.8" lengthAdjust="spacingAndGlyphs" stroke="#000" stroke-width="0.25" >15</text>
<text x="1645" y="822" fill="#000" font-size="9.9" text-anchor="start" textLength="4.8" lengthAdjust="spacingAndGlyphs" stroke="#000" stroke-width="0.25" >0</text>
<g shape-rendering="crispEdges" fill="#000"><rect x="8" y="30" width="7" height="1"/><rect x="9" y="31" width="5" height="1"/><rect x="10" y="32" width="3" height="1"/><rect x="11" y="33" width="1" height="1"/></g>
<text x="20.7" y="34.8" fill="#000" font-size="9.9" text-anchor="start" textLength="57.6" lengthAdjust="spacingAndGlyphs" stroke="#000" stroke-width="0.25" >USDCAD-,H4</text>
<text x="85.7" y="34.8" fill="#000" font-size="9.9" text-anchor="start" textLength="31.8" lengthAdjust="spacingAndGlyphs" stroke="#000" stroke-width="0.25" >1.35102</text>
<text x="122.0" y="34.8" fill="#000" font-size="9.9" text-anchor="start" textLength="31.8" lengthAdjust="spacingAndGlyphs" stroke="#000" stroke-width="0.25" >1.35179</text>
<text x="158.0" y="34.8" fill="#000" font-size="9.9" text-anchor="start" textLength="31.8" lengthAdjust="spacingAndGlyphs" stroke="#000" stroke-width="0.25" >1.35020</text>
<text x="193.8" y="34.8" fill="#000" font-size="9.9" text-anchor="start" textLength="31.8" lengthAdjust="spacingAndGlyphs" stroke="#000" stroke-width="0.25" >1.35081</text>
<text x="9.7" y="606.9" fill="#000" font-size="9.9" text-anchor="start" textLength="64.6" lengthAdjust="spacingAndGlyphs" stroke="#000" stroke-width="0.25" >MACD(12,26,9)</text>
<text x="78.7" y="606.9" fill="#000" font-size="9.9" text-anchor="start" textLength="40.2" lengthAdjust="spacingAndGlyphs" stroke="#000" stroke-width="0.25" >-0.003398</text>
<text x="122.7" y="606.9" fill="#000" font-size="9.9" text-anchor="start" textLength="40.2" lengthAdjust="spacingAndGlyphs" stroke="#000" stroke-width="0.25" >-0.000496</text>
<text x="9.3" y="732.6" fill="#000" font-size="9.9" text-anchor="start" textLength="30.6" lengthAdjust="spacingAndGlyphs" stroke="#000" stroke-width="0.25" >RSI(14)</text>
<text x="44.5" y="732.6" fill="#000" font-size="9.9" text-anchor="start" textLength="32.4" lengthAdjust="spacingAndGlyphs" stroke="#000" stroke-width="0.25" >34.4515</text>
<g shape-rendering="crispEdges" fill="#000"><rect x="1308" y="24" width="9" height="1"/><rect x="1309" y="25" width="7" height="1"/><rect x="1310" y="26" width="5" height="1"/><rect x="1311" y="27" width="3" height="1"/><rect x="1312" y="28" width="1" height="1"/></g>
</svg>
<div id="tb">
<svg width="1689" height="19" viewBox="0 0 1689 19" font-family="'Liberation Sans','Noto Sans CJK SC',sans-serif">
<defs>
<pattern id="chk" width="2" height="2" patternUnits="userSpaceOnUse"><rect width="2" height="2" fill="#ffffff"/><rect width="1" height="1" fill="#ececec"/><rect x="1" y="1" width="1" height="1" fill="#ececec"/></pattern>
<linearGradient id="gplus" x1="0" y1="0" x2="0" y2="1"><stop offset="0" stop-color="#7dff8a"/><stop offset="0.5" stop-color="#1fe23a"/><stop offset="1" stop-color="#0aa51e"/></linearGradient>
<linearGradient id="gold" x1="0" y1="0" x2="1" y2="1"><stop offset="0" stop-color="#f7d94a"/><stop offset="0.5" stop-color="#e8b41c"/><stop offset="1" stop-color="#c98a10"/></linearGradient>
<linearGradient id="cloud" x1="0" y1="0" x2="0" y2="1"><stop offset="0" stop-color="#ffffff"/><stop offset="1" stop-color="#b4c0d6"/></linearGradient>
<linearGradient id="bluebox" x1="0" y1="0" x2="1" y2="0"><stop offset="0" stop-color="#0a84ea"/><stop offset="1" stop-color="#38b0ff"/></linearGradient>
<radialGradient id="redc" cx="0.5" cy="0.3" r="0.8"><stop offset="0" stop-color="#e9502e"/><stop offset="1" stop-color="#dc2a10"/></radialGradient>
<linearGradient id="lens" x1="0" y1="0" x2="0" y2="1"><stop offset="0" stop-color="#c8ecff"/><stop offset="1" stop-color="#e8f8ff"/></linearGradient>
<g id="dd"><polygon points="0,0 5.6,0 2.8,3.1" fill="#000"/></g>
<g id="axes" fill="none" stroke="#555" stroke-width="1.1"><path d="M2.5 1.2V15M0 12.5H13.6"/><path d="M1.2 3.2L2.5 1.3L3.8 3.2M11.8 11.2L13.8 12.5L11.8 13.8" stroke-width="1"/></g>
<g id="grip" fill="#b4b4b4"><rect x="0" y="1" width="3" height="1"/><rect x="0" y="3" width="3" height="1"/><rect x="0" y="5" width="3" height="1"/><rect x="0" y="7" width="3" height="1"/><rect x="0" y="9" width="3" height="1"/><rect x="0" y="11" width="3" height="1"/><rect x="0" y="13" width="3" height="1"/><rect x="0" y="15" width="3" height="1"/></g>
</defs>
<rect x="0" y="0" width="1689" height="19" fill="#f0f0f0"/>
<rect x="0" y="18" width="1689" height="1" fill="#fbfbfb"/>
<!-- pressed buttons -->
<g shape-rendering="crispEdges">
<rect x="277" y="0" width="24" height="17" fill="url(#chk)"/>
<rect x="429" y="0" width="24" height="17" fill="url(#chk)"/>
<rect x="457" y="0" width="24" height="17" fill="url(#chk)"/>
<rect x="617" y="0" width="24" height="17" fill="url(#chk)"/>
<rect x="1063" y="0" width="24" height="17" fill="url(#chk)"/>
<!-- separators -->
<g fill="#a0a0a0">
<rect x="2" y="0" width="1" height="17"/>
<rect x="276" y="0" width="1" height="17"/><rect x="333" y="0" width="1" height="17"/>
<rect x="423" y="0" width="1" height="17"/><rect x="428" y="0" width="1" height="17"/>
<rect x="456" y="0" width="1" height="17"/><rect x="485" y="0" width="1" height="17"/>
<rect x="616" y="0" width="1" height="17"/><rect x="673" y="0" width="1" height="17"/>
<rect x="1062" y="0" width="1" height="17"/>
</g>
<g fill="#8c8c8c"><rect x="238" y="0" width="1" height="19"/><rect x="606" y="0" width="1" height="19"/><rect x="912" y="0" width="1" height="19"/><rect x="1173" y="0" width="1" height="19"/></g>
<g fill="#ffffff"><rect x="239" y="0" width="1" height="19"/><rect x="607" y="0" width="1" height="19"/><rect x="913" y="0" width="1" height="19"/><rect x="1174" y="0" width="1" height="19"/></g>
<use href="#grip" x="242" y="0"/><use href="#grip" x="610" y="0"/><use href="#grip" x="916" y="0"/>
</g>

<!-- new order icon -->
<path d="M12.5 -1V12.5H23.5V2.5L20.5 -1Z" fill="#fff" stroke="#5a5a5a" stroke-width="1"/>
<path d="M20.5 -1V2.5H23.5" fill="#e8e8e8" stroke="#666" stroke-width="0.8"/>
<rect x="14.3" y="1.2" width="2.6" height="1.2" fill="#999"/>
<path d="M14.2 5.5H19.5M14.2 7.5H18.5M14.2 9.5H17" stroke="#888" stroke-width="0.9"/>
<path d="M20.5 5.5H23.5V9.5H27.5V12.5H23.5V16.5H20.5V12.5H16.5V9.5H20.5Z" fill="url(#gplus)" stroke="#0a8412" stroke-width="1"/>
<text x="30.5" y="10.1" font-size="12.3" fill="#000" stroke="#000" stroke-width="0.2" textLength="36.9" lengthAdjust="spacingAndGlyphs">新订单</text>

<!-- book icon -->
<path d="M79 8.4L86.7 13.5L94.9 8.2L95 9.6L86.7 15L79 9.6Z" fill="#e2c060" stroke="#9a5c0c" stroke-width="0.8" stroke-linejoin="round"/>
<path d="M84.4 -1.4L94.7 8.1L86.7 13.5L79.1 8.4Z" fill="url(#gold)" stroke="#a2640e" stroke-width="0.9" stroke-linejoin="round"/>
<path d="M85 1L91.6 7.6" stroke="#fbe98a" stroke-width="1.6" opacity="0.7"/>
<!-- cloud/server icon -->
<path d="M109.2 -1H120V8H109.2Z" fill="url(#bluebox)"/>
<path d="M112.6 -1V8" stroke="#cfeaff" stroke-width="0.8"/>
<rect x="114.3" y="3.2" width="4" height="1.2" fill="#e4f4ff"/><rect x="114.3" y="5.6" width="4" height="1" fill="#bfe2ff"/>
<path d="M110 14.4C106.6 14.4 106.4 10.6 109 10.2C108.8 7.8 112.2 7.2 113.4 8.8C114.6 6.2 118.8 6.6 119 9.4C121.8 8.6 124.2 11 122.6 13.2C122.2 14.2 121.2 14.4 120.4 14.4Z" fill="url(#cloud)" stroke="#48629e" stroke-width="1"/>
<!-- signal icon -->
<path d="M142.8 6.8L146.6 -0.4A8.2 8.2 0 0 1 142.8 15Z" fill="#7cc486" opacity="0.6"/>
<g fill="none" stroke-width="1">
<circle cx="142.8" cy="6.8" r="7.8" stroke="#7f9fe6" opacity="0.7"/>
<circle cx="142.8" cy="6.8" r="5.8" stroke="#4f7ede" opacity="0.85"/>
<circle cx="142.8" cy="6.8" r="3.7" stroke="#3f70da" opacity="0.9"/>
</g>
<path d="M146.6 -0.4A8.2 8.2 0 0 1 142.8 15" fill="none" stroke="#6ab47a" stroke-width="1.1" opacity="0.9"/>
<circle cx="142.7" cy="6.5" r="1.8" fill="#2858d0"/>
<path d="M143.4 7.2V14.9" stroke="#1faa2a" stroke-width="1.4"/>
<!-- auto trading icon -->
<path d="M162.5 7L177.6 6.2L171.2 14.8L167 12Z" fill="#f6d84e" stroke="#d8a81c" stroke-width="0.8"/>
<path d="M162.2 3.8Q163.6 1.4 167 2.4Q170 3.4 173 2.4Q176.4 1.2 177.8 2.8Q177.2 6.4 170 6.9Q163.6 6.8 162.2 3.8Z" fill="#4aa6dc" stroke="#3a90c8" stroke-width="0.7"/>
<path d="M166.3 -1L167.4 3Q170 4.2 172.6 3L173.5 -1Z" fill="#7cc6ee"/>
<path d="M168.6 -1L169.2 2.8" stroke="#b8e2f8" stroke-width="1"/>
<circle cx="174.5" cy="10.7" r="4.1" fill="#e2280e"/>
<rect x="172.7" y="9.1" width="3.6" height="3.1" fill="#fff"/>
<text x="183.5" y="10.1" font-size="12.6" fill="#000" stroke="#000" stroke-width="0.2" textLength="47.4" lengthAdjust="spacingAndGlyphs">自动交易</text>

<!-- chart type icons -->
<use href="#axes" x="254" y="0"/>
<path d="M262.9 2.4V10.6M262.9 3.2H265.2M260.2 9.6H262.9" fill="none" stroke="#088008" stroke-width="1.2"/>
<use href="#axes" x="282" y="0"/>
<path d="M290.6 -1V10.8" stroke="#0a8a0a" stroke-width="1.2"/>
<rect x="288.5" y="1.6" width="4.4" height="7" fill="#3ae052" stroke="#0a8a0a" stroke-width="1"/>
<use href="#axes" x="310" y="0"/>
<path d="M311 9.6C313.6 8.4 315.4 4.4 317.2 4.4C319 4.4 320.6 7.8 323 8.4" fill="none" stroke="#2a8e30" stroke-width="1.1"/>

<!-- zoom in / out -->
<g>
<path d="M352 9.2L356.3 12.9" stroke="#a87c10" stroke-width="3.4" stroke-linecap="round"/>
<path d="M352 9.2L356.3 12.9" stroke="#f0cc3c" stroke-width="1.8" stroke-linecap="round"/>
<circle cx="347.9" cy="5" r="5.4" fill="url(#lens)" stroke="#3a78c8" stroke-width="1.2"/>
<path d="M345 5H350.8M347.9 2.1V7.9" stroke="#4a86b8" stroke-width="1.5"/>
<path d="M380 9.2L384.3 12.9" stroke="#a87c10" stroke-width="3.4" stroke-linecap="round"/>
<path d="M380 9.2L384.3 12.9" stroke="#f0cc3c" stroke-width="1.8" stroke-linecap="round"/>
<circle cx="375.9" cy="5" r="5.4" fill="url(#lens)" stroke="#3a78c8" stroke-width="1.2"/>
<path d="M373 5H378.8" stroke="#4a86b8" stroke-width="1.5"/>
</g>
<!-- grid icon -->
<g shape-rendering="crispEdges">
<rect x="398" y="0" width="8" height="7" fill="#3f9f1e"/><rect x="406" y="0" width="8" height="7" fill="#2a5ad4"/>
<rect x="398" y="7" width="8" height="8" fill="#2a5ad4"/><rect x="406" y="7" width="8" height="8" fill="#3f9f1e"/>
<rect x="398" y="0" width="8" height="1" fill="#2f8a14"/><rect x="406" y="0" width="8" height="1" fill="#1a44b8"/>
<rect x="399" y="2" width="6" height="4" fill="#fff"/><rect x="407" y="2" width="6" height="4" fill="#fff"/>
<rect x="399" y="10" width="6" height="4" fill="#fff"/><rect x="407" y="10" width="6" height="4" fill="#fff"/>
<rect x="400" y="3" width="4" height="1" fill="#9fd484"/><rect x="408" y="3" width="4" height="1" fill="#9ab4f0"/>
<rect x="400" y="11" width="4" height="1" fill="#9ab4f0"/><rect x="408" y="11" width="4" height="1" fill="#9fd484"/>
<rect x="400" y="5" width="4" height="1" fill="#3f9f1e"/><rect x="408" y="5" width="4" height="1" fill="#2a5ad4"/>
<rect x="400" y="13" width="4" height="1" fill="#2a5ad4"/><rect x="408" y="13" width="4" height="1" fill="#3f9f1e"/>
<rect x="399" y="8" width="1" height="1" fill="#c8d8ff"/><rect x="407" y="8" width="1" height="1" fill="#d0f0c0"/>
<rect x="399" y="0" width="1" height="1" fill="#d0f0c0"/><rect x="407" y="0" width="1" height="1" fill="#c8d8ff"/>
</g>
<!-- autoscroll / shift -->
<use href="#axes" x="434" y="0"/>
<path d="M441.2 3.2V9.8L445 6.5Z" fill="#4ae05a" stroke="#0a8a0a" stroke-width="1"/>
<use href="#axes" x="462" y="0"/>
<path d="M470.5 1V10.8" stroke="#1a6aa8" stroke-width="1.3"/>
<path d="M471.4 6.5L474 4.4V5.9H476V7.1H474V8.6Z" fill="#e04a0a"/>
<!-- indicators -->
<path d="M495.5 -1V12.4H506.5V2.5L503.5 -1Z" fill="#fff" stroke="#777" stroke-width="1"/>
<path d="M500.6 2.2C499 2 498.6 3 498.6 4.4V9M497.4 5.4H500.4" fill="none" stroke="#555" stroke-width="1"/>
<path d="M503.5 5.5H506.5V9.5H510.5V12.5H506.5V16.5H503.5V12.5H499.5V9.5H503.5Z" fill="url(#gplus)" stroke="#0a8412" stroke-width="1"/>
<use href="#dd" x="516.8" y="6"/>
<!-- clock -->
<circle cx="541.1" cy="6.6" r="7" fill="#fff" stroke="#1a78dc" stroke-width="2.2"/>
<circle cx="541.1" cy="6.6" r="8" fill="none" stroke="#0a58b4" stroke-width="0.6"/>
<path d="M541.1 3V6.8H543.6" fill="none" stroke="#222" stroke-width="1.1"/>
<path d="M538.5 -1.6H543.7" stroke="#1a78dc" stroke-width="2"/>
<use href="#dd" x="555.7" y="6"/>
<!-- template -->
<rect x="572.5" y="-1" width="15" height="14.6" fill="#fff" stroke="#3a74c4" stroke-width="1.2"/>
<rect x="572.5" y="-1" width="15" height="3.4" fill="#3f82d4"/>
<rect x="573" y="7.8" width="14" height="1.2" fill="#6ea0dc"/>
<path d="M574.5 6.2L576.5 6L578.5 4.6L580.5 5.4L582.5 5L585.5 4.2" fill="none" stroke="#b0200c" stroke-width="1.3"/>
<path d="M575 11.6L577.5 10.8L579.5 11.4L582.5 9.6L585 11.6" fill="none" stroke="#1c9a2a" stroke-width="1.3"/>
<use href="#dd" x="594.8" y="6"/>
<!-- cursor -->
<path d="M624 -1V10.8L626.4 8.6L629 13.9L631 13L628.6 7.8L632 7.4Z" fill="#4a4a4a"/>
<!-- crosshair -->
<g shape-rendering="crispEdges" fill="#555"><rect x="649" y="7" width="6" height="1"/><rect x="658" y="7" width="6" height="1"/><rect x="656" y="0" width="1" height="6"/><rect x="656" y="9" width="1" height="6"/><rect x="656" y="7" width="1" height="1" fill="#999"/></g>
<!-- lines -->
<g shape-rendering="crispEdges" fill="#555"><rect x="690" y="1" width="1" height="13"/><rect x="713" y="7" width="12" height="1" fill="#333"/></g>
<path d="M740.8 13.8L753 1.7" stroke="#444" stroke-width="1.1"/>
<!-- channel -->
<g stroke="#444" stroke-width="1" fill="none">
<path d="M766.8 8.8L774.9 1.4M771.5 13.5L781 5.4" stroke-width="1.1"/><path d="M767.6 12.6L770 7.6L771.4 10.4L773.4 5L774.8 8L776.8 2.6L778.2 5.4L779.6 0" stroke-width="1.1" stroke="#333"/>

</g>
<text x="777.6" y="16" font-size="6.5" font-weight="bold" fill="#333">E</text>
<!-- fib -->
<g stroke="#555" stroke-width="1" stroke-dasharray="1 1" shape-rendering="crispEdges"><path d="M796 0.5H809M796 3.5H809M796 7.5H809M796 11.5H805"/></g>
<text x="805.8" y="16" font-size="6.5" font-weight="bold" fill="#333">F</text>
<!-- A, T -->
<text x="826.8" y="11.8" font-size="11.8" fill="#555" stroke="#555" stroke-width="0.4">A</text>
<rect x="853.5" y="1.5" width="11" height="12" fill="none" stroke="#555" stroke-width="1" stroke-dasharray="1 1" shape-rendering="crispEdges"/>
<rect x="852" y="0" width="2" height="1" fill="#444"/>
<text x="855.2" y="11.8" font-size="11" fill="#555" stroke="#555" stroke-width="0.55">T</text>
<!-- arrows icon -->
<path d="M880.2 4.6L883.6 1L887 4.6L883.6 5.6Z" fill="#4a4a4a"/>
<path d="M882.4 8.6L884.4 10.4L888.6 5.4" fill="none" stroke="#4a4a4a" stroke-width="1.3"/>
<path d="M887 10.4L890.5 9.4L894 10.4L890.5 13.9Z" fill="#4a4a4a"/>
<use href="#dd" x="900.7" y="6"/>
<!-- timeframes -->
<g font-size="9" fill="#333">
<text x="927.4" y="10.9" textLength="12.6" lengthAdjust="spacingAndGlyphs">M1</text>
<text x="955.6" y="10.9" textLength="12.4" lengthAdjust="spacingAndGlyphs">M5</text>
<text x="981.5" y="10.9" textLength="17.6" lengthAdjust="spacingAndGlyphs">M15</text>
<text x="1009.5" y="10.9" textLength="17.5" lengthAdjust="spacingAndGlyphs">M30</text>
<text x="1040.5" y="10.9" textLength="11.8" lengthAdjust="spacingAndGlyphs">H1</text>
<text x="1067.6" y="10.9" textLength="12.2" lengthAdjust="spacingAndGlyphs">H4</text>
<text x="1096.6" y="10.9" textLength="11.5" lengthAdjust="spacingAndGlyphs">D1</text>
<text x="1124" y="10.9" textLength="14.2" lengthAdjust="spacingAndGlyphs">W1</text>
<text x="1150.7" y="10.9" textLength="14.5" lengthAdjust="spacingAndGlyphs">MN</text>
</g>
<!-- search -->
<path d="M1640.4 7.8L1636.2 11.9" stroke="#1e56cc" stroke-width="2.6" stroke-linecap="round"/>
<circle cx="1643.7" cy="4.3" r="4" fill="#f6f6ff" stroke="#2a62d4" stroke-width="1.3"/>
<!-- chat -->
<path d="M1665.4 4.2C1661.6 4.4 1659.8 7.2 1660.4 9.6C1660.8 11.6 1662.4 12.8 1664 13.2L1663.4 15.6L1665.8 13.5C1668.4 13.6 1670.6 12.6 1671 10.4Z" fill="#e6e6f0" stroke="#a8a8a8" stroke-width="0.9"/>
<circle cx="1674.5" cy="4.5" r="8.3" fill="url(#redc)"/>
<text x="1673.6" y="8.9" font-size="13" font-weight="bold" fill="#fff" text-anchor="middle" font-family="'Liberation Serif',serif">1</text>
</svg>

</div>
</body>
</html>
